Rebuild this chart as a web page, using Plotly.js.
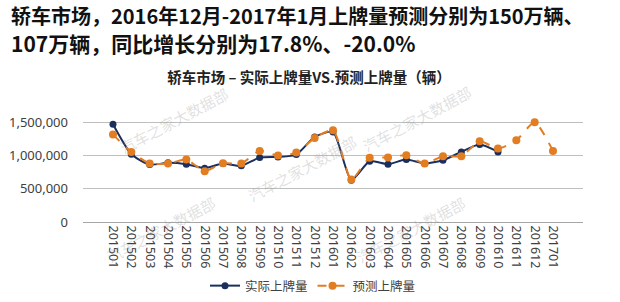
<!DOCTYPE html>
<html><head><meta charset="utf-8">
<script src="https://cdn.plot.ly/plotly-3.0.1.min.js"></script>
<style>html,body{margin:0;padding:0;background:#fff}#chart{width:620px;height:302px}</style>
</head><body><div id="chart"></div>
<script>
const months = ["201501","201502","201503","201504","201505","201506","201507","201508","201509","201510","201511","201512","201601","201602","201603","201604","201605","201606","201607","201608","201609","201610","201611","201612","201701"];
const actual = [1470000,1020000,865000,890000,870000,810000,880000,845000,970000,980000,1015000,1280000,1355000,630000,915000,870000,940000,880000,930000,1055000,1165000,1055000,null,null,null];
const forecast = [1315000,1055000,880000,880000,940000,765000,885000,880000,1070000,1000000,1045000,1265000,1380000,640000,965000,970000,1005000,880000,990000,990000,1215000,1105000,1230000,1500000,1070000];
const yTicks = [0,500000,1000000,1500000];
const titleLine1 = "轿车市场，2016年12月-2017年1月上牌量预测分别为150万辆、";
const titleLine2 = "107万辆，同比增长分别为17.8%、-20.0%";
const chartTitle = "轿车市场 – 实际上牌量VS.预测上牌量（辆）";
const wmText = "汽车之家大数据部";

const font = "'Noto Sans CJK SC', 'Noto Sans', sans-serif";
const traces = [
  {x: months, y: actual, name: "实际上牌量", type: "scatter", mode: "lines+markers",
   line: {color: "#1B2F5E", width: 2, shape: "spline", smoothing: 0.6},
   marker: {color: "#1B2F5E", size: 7}, cliponaxis: false},
  {x: months, y: forecast, name: "预测上牌量", type: "scatter", mode: "lines+markers",
   line: {color: "#E27D22", width: 2, dash: "dash", shape: "spline", smoothing: 0.6},
   marker: {color: "#E27D22", size: 8}, cliponaxis: false}
];

const H = 103.33;
const px = v => (v - 83) / 500;
const py = v => (222 - v) / H;
const annotations = [
  {xref:"paper", yref:"paper", x:px(9), y:py(15), xanchor:"left", yanchor:"middle",
   text:"<b>" + titleLine1 + "</b>", showarrow:false, font:{family:font, size:20, color:"#111"}},
  {xref:"paper", yref:"paper", x:px(9), y:py(42), xanchor:"left", yanchor:"middle",
   text:"<b>" + titleLine2 + "</b>", showarrow:false, font:{family:font, size:21, color:"#111"}},
];
const wm = [[113,80],[478,78],[302,168],[100,270],[472,270]];
wm.forEach(p => annotations.push({
  xref:"paper", yref:"paper", x:px(p[0]), y:py(p[1]), text: wmText, showarrow:false,
  textangle:-28, font:{family:font, size:15, color:"rgba(150,150,150,0.3)"}
}));

const layout = {
  width: 620, height: 302,
  margin: {l: 83, r: 37, t: 118.67, b: 80},
  paper_bgcolor: "#fff", plot_bgcolor: "#fff",
  font: {family: font, color: "#404040"},
  title: {text: "<b>" + chartTitle + "</b>", x: 309/620, xanchor: "center", xref: "container",
          y: 1 - 78/302, yanchor: "middle", yref: "container", font: {family: font, size: 14.5, color: "#222"}},
  showlegend: true,
  legend: {orientation: "h", xref: "container", yref: "container", x: 313/620, xanchor: "center", y: 1 - 286/302, yanchor: "middle",
           font: {family: font, size: 12.5, color: "#404040"}, bgcolor: "rgba(0,0,0,0)", itemwidth: 30},
  xaxis: {type: "category", tickangle: 90, tickfont: {family: "'Noto Sans', sans-serif", size: 12.5, color: "#404040"},
          showgrid: false, showline: true, linecolor: "#A6A6A6", linewidth: 1, ticks: "", zeroline: false, automargin: false},
  yaxis: {range: [0, 1550000], tickvals: yTicks, tickformat: ",", showgrid: true, gridcolor: "#BFBFBF", gridwidth: 1,
          zeroline: false, showline: false, ticks: "", ticklabelstandoff: 14, automargin: false,
          tickfont: {family: "'Noto Sans', sans-serif", size: 13, color: "#404040"}},
  annotations: annotations
};
Plotly.newPlot("chart", traces, layout, {displayModeBar: false, staticPlot: true});
</script></body></html>
